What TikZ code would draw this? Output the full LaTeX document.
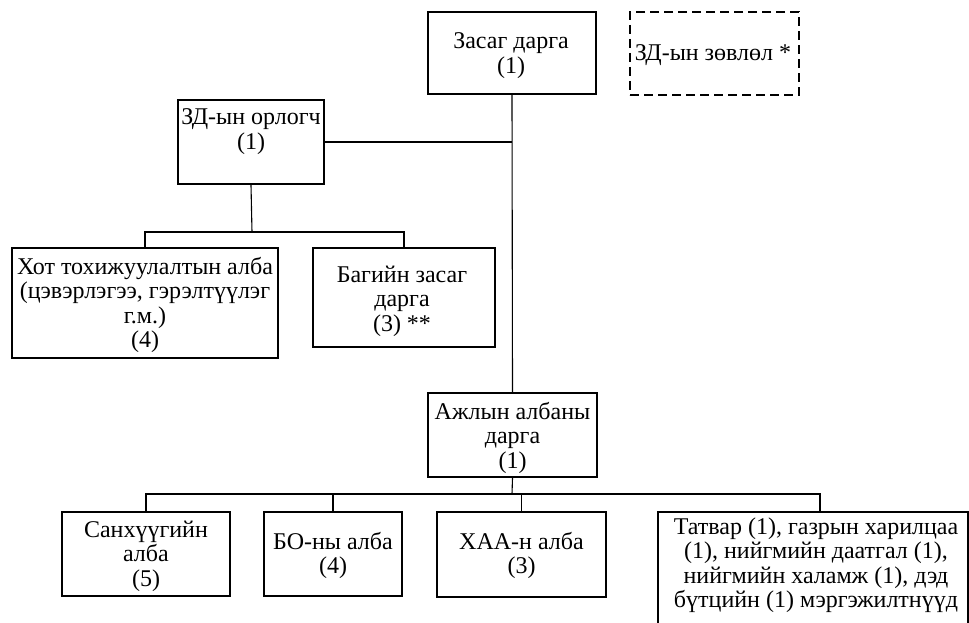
\documentclass[tikz,border=0pt]{standalone}
\usepackage{fontspec}
\setmainfont{Liberation Serif}
\begin{document}
\begin{tikzpicture}[x=1pt,y=-1pt,
  box/.style={draw, line width=2.4pt, rectangle, inner sep=0pt},
  dbox/.style={box, dash pattern=on 9pt off 5pt},
  lbl/.style={anchor=base, inner sep=0pt, font=\fontsize{24}{24.5}\selectfont},
  conn/.style={line width=1.1pt}]
\useasboundingbox (0,0) rectangle (969,623);
\clip (0,0) rectangle (969,623);
% boxes
\node[box, minimum width=168pt, minimum height=82pt] (zasag) at (512,53) {};
\node[dbox, minimum width=169pt, minimum height=83pt] (zovlol) at (714.5,53.5) {};
\node[box, minimum width=146pt, minimum height=84pt] (orlogch) at (251,142) {};
\node[box, minimum width=266pt, minimum height=110pt] (khot) at (145,303) {};
\node[box, minimum width=182pt, minimum height=99pt] (bag) at (404,297.5) {};
\node[box, minimum width=169pt, minimum height=84pt] (ajil) at (512.5,435) {};
\node[box, minimum width=168pt, minimum height=84pt] (sankhuu) at (146,554) {};
\node[box, minimum width=138pt, minimum height=84pt] (bo) at (333,554) {};
\node[box, minimum width=169pt, minimum height=85pt] (khaa) at (521.5,554.5) {};
\node[box, minimum width=310pt, minimum height=140pt] (tatvar) at (813,582) {};
% texts
\node[lbl] (zasagT) at (511,49) {\begin{tabular}[t]{@{}c@{}}Засаг дарга\\(1)\end{tabular}};
\node[lbl] (zovlolT) at (713,61) {ЗД-ын зөвлөл *};
\node[lbl] (orlogchT) at (251,125) {\begin{tabular}[t]{@{}c@{}}ЗД-ын орлогч\\(1)\end{tabular}};
\node[lbl] (khotT) at (145,274) {\begin{tabular}[t]{@{}c@{}}Хот тохижуулалтын алба\\(цэвэрлэгээ, гэрэлтүүлэг\\г.м.)\\(4)\end{tabular}};
\node[lbl] (bagT) at (402,282) {\begin{tabular}[t]{@{}c@{}}Багийн засаг\\дарга\\(3) **\end{tabular}};
\node[lbl] (ajilT) at (512.5,419) {\begin{tabular}[t]{@{}c@{}}Ажлын албаны\\дарга\\(1)\end{tabular}};
\node[lbl] (sankhuuT) at (146,537) {\begin{tabular}[t]{@{}c@{}}Санхүүгийн\\алба\\(5)\end{tabular}};
\node[lbl] (boT) at (333,549) {\begin{tabular}[t]{@{}c@{}}БО-ны алба\\(4)\end{tabular}};
\node[lbl] (khaaT) at (521.5,549) {\begin{tabular}[t]{@{}c@{}}ХАА-н алба\\(3)\end{tabular}};
\node[lbl] (tatvarT) at (816,534) {\begin{tabular}[t]{@{}c@{}}Татвар (1), газрын харилцаа\\(1), нийгмийн даатгал (1),\\нийгмийн халамж (1), дэд\\бүтцийн (1) мэргэжилтнүүд\end{tabular}};
% connectors
\coordinate (busA) at (252,232);
\coordinate (busB) at (512,494);
\draw[conn] (zasag.south) -- (ajil.north);
\draw[conn] (orlogch.east) -- (orlogch.east -| zasag.south);
\draw[conn] (orlogch.south) -- (busA);
\draw[conn] (khot.north) |- (busA) -| (bag.north);
\draw[conn] (ajil.south) -- (busB);
\draw[conn] (sankhuu.north) |- (busB) -| ([xshift=7pt]tatvar.north);
\draw[conn] (bo.north) -- (bo.north |- busB);
\draw[conn] (khaa.north) -- (khaa.north |- busB);
\end{tikzpicture}
\end{document}
